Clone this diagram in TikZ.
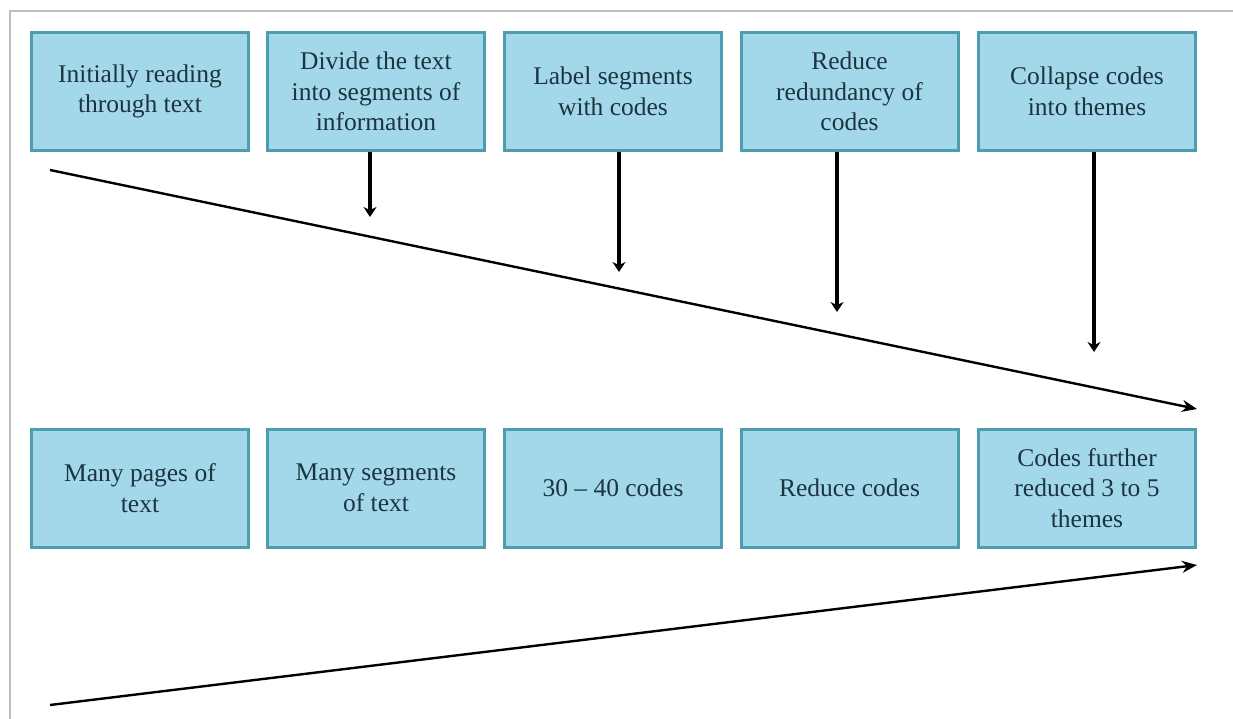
\documentclass[tikz,border=0pt]{standalone}
\usepackage{fontspec}
\setmainfont{Liberation Serif}
\usetikzlibrary{arrows.meta}
\definecolor{boxfill}{HTML}{A2D8EA}
\definecolor{boxline}{HTML}{4E9DAE}
\definecolor{txt}{HTML}{1C3442}
\definecolor{frame}{HTML}{BDBDBD}
\begin{document}
\begin{tikzpicture}[x=1pt,y=-1pt,
  stagebox/.style={draw=boxline,line width=3pt,fill=boxfill,minimum width=217pt,minimum height=118pt,
    align=center,text=txt,font=\fontsize{25.5}{30.5}\selectfont,inner sep=2pt},
  downarrow/.style={line width=4.5pt,-{Stealth[length=10pt,width=13pt]}},
  longarrow/.style={line width=2.4pt,-{Stealth[length=15pt,width=12pt]}}]
\useasboundingbox (0,0) rectangle (1233,719);
\fill[white] (0,0) rectangle (1233,719);
\draw[frame,line width=2pt] (1233,11) -- (10,11) -- (10,719);
% top row
\node[stagebox] (t1) at (140,91.5) {Initially reading\\through text};
\node[stagebox] (t2) at (376,91.5) {Divide the text\\into segments of\\information};
\node[stagebox] (t3) at (613,91.5) {Label segments\\with codes};
\node[stagebox] (t4) at (849.5,91.5) {Reduce\\redundancy of\\codes};
\node[stagebox] (t5) at (1087,91.5) {Collapse codes\\into themes};
% bottom row
\node[stagebox] (b1) at (140,488) {Many pages of\\text};
\node[stagebox] (b2) at (376,488) {Many segments\\of text};
\node[stagebox] (b3) at (613,488) {30 -- 40 codes};
\node[stagebox] (b4) at (849.5,488) {Reduce codes};
\node[stagebox] (b5) at (1087,488) {Codes further\\reduced 3 to 5\\themes};
% vertical arrows
\coordinate (e2) at (370,217);
\coordinate (e3) at (619,272);
\coordinate (e4) at (837,312);
\coordinate (e5) at (1094,352);
\draw[downarrow] (t2.south -| e2) -- (e2);
\draw[downarrow] (t3.south -| e3) -- (e3);
\draw[downarrow] (t4.south -| e4) -- (e4);
\draw[downarrow] (t5.south -| e5) -- (e5);
% long arrows
\coordinate (ds) at (50,170);
\coordinate (de) at (1197,409);
\coordinate (us) at (50,705);
\coordinate (ue) at (1197,565);
\draw[longarrow] (ds) -- (de);
\draw[longarrow] (us) -- (ue);
\end{tikzpicture}
\end{document}
